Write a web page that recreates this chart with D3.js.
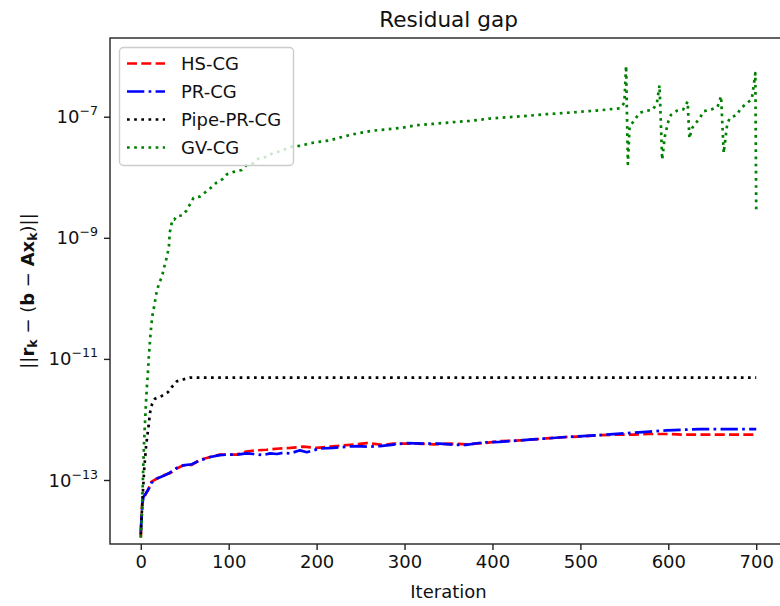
<!DOCTYPE html>
<html>
<head>
<meta charset="utf-8">
<script src="https://cdn.jsdelivr.net/npm/d3@7"></script>
<style>
  html, body { margin: 0; padding: 0; background: #fff; }
  svg { display: block; font-family: "DejaVu Sans", sans-serif; }
</style>
</head>
<body>
<svg id="chart" width="780" height="606"></svg>
<script>
// ---------------- data ----------------
const xTickValues = [0, 100, 200, 300, 400, 500, 600, 700];
const yTickExponents = [-7, -9, -11, -13];
const seriesNames = ["HS-CG", "PR-CG", "Pipe-PR-CG", "GV-CG"];

const hsIter = [0, 1, 2, 3, 5, 9, 12, 18, 26, 33, 41, 48, 58, 67, 79, 90, 100, 109, 120, 132, 143, 158, 170, 185, 200, 215, 230, 245, 257, 276, 287, 300, 314, 333, 352, 370, 390, 408, 427, 446, 465, 484, 503, 522, 541, 560, 579, 598, 617, 636, 700];
const hsVal = [1.12e-14, 3.02e-14, 4.47e-14, 5.25e-14, 5.62e-14, 7.24e-14, 9.33e-14, 1.05e-13, 1.20e-13, 1.29e-13, 1.55e-13, 1.74e-13, 1.78e-13, 2.14e-13, 2.40e-13, 2.63e-13, 2.63e-13, 2.63e-13, 2.95e-13, 3.09e-13, 3.16e-13, 3.31e-13, 3.39e-13, 3.55e-13, 3.39e-13, 3.55e-13, 3.72e-13, 3.89e-13, 4.07e-13, 3.80e-13, 3.98e-13, 3.98e-13, 3.98e-13, 3.89e-13, 3.98e-13, 3.89e-13, 4.07e-13, 4.37e-13, 4.47e-13, 4.68e-13, 4.90e-13, 5.13e-13, 5.25e-13, 5.50e-13, 5.62e-13, 5.62e-13, 5.75e-13, 5.75e-13, 5.62e-13, 5.62e-13, 5.62e-13];

const prIter = [0, 1, 2, 3, 5, 9, 12, 18, 26, 33, 41, 48, 58, 67, 79, 90, 100, 110, 120, 128, 139, 147, 155, 162, 170, 181, 189, 204, 219, 234, 246, 260, 272, 285, 302, 325, 340, 359, 370, 389, 408, 446, 484, 522, 560, 579, 598, 617, 636, 700];
const prVal = [1.41e-14, 2.51e-14, 4.17e-14, 5.25e-14, 5.75e-14, 7.08e-14, 8.91e-14, 1.05e-13, 1.17e-13, 1.32e-13, 1.58e-13, 1.74e-13, 1.82e-13, 2.09e-13, 2.40e-13, 2.57e-13, 2.63e-13, 2.63e-13, 2.75e-13, 2.69e-13, 2.57e-13, 2.75e-13, 2.69e-13, 2.82e-13, 2.75e-13, 3.09e-13, 2.88e-13, 3.31e-13, 3.39e-13, 3.55e-13, 3.63e-13, 3.55e-13, 3.63e-13, 3.80e-13, 4.07e-13, 3.98e-13, 3.98e-13, 3.80e-13, 3.80e-13, 4.17e-13, 4.27e-13, 4.68e-13, 5.13e-13, 5.50e-13, 6.03e-13, 6.31e-13, 6.61e-13, 6.76e-13, 6.92e-13, 6.92e-13];

const pipeIter = [0, 2, 4, 6, 8, 9, 10, 11, 13, 16, 24, 31, 35, 41, 48, 56, 200, 400, 600, 700];
const pipeVal = [1.26e-14, 5.01e-14, 1.58e-13, 3.55e-13, 6.31e-13, 7.94e-13, 1.12e-12, 1.41e-12, 1.82e-12, 2.19e-12, 2.45e-12, 2.82e-12, 3.39e-12, 4.27e-12, 4.57e-12, 4.90e-12, 4.90e-12, 4.90e-12, 4.90e-12, 4.90e-12];

const gvIter = [0, 1, 2, 3, 4, 5, 6, 7, 8, 9, 10, 11, 12, 13, 15, 18, 21, 24, 26, 30, 32, 33, 36, 38, 41, 47, 52, 60, 67, 74, 81, 86, 93, 98, 106, 115, 120, 128, 134, 141, 149, 156, 173, 181, 196, 215, 230, 245, 264, 280, 298, 314, 332, 355, 374, 397, 416, 435, 461, 480, 518, 545, 550, 552, 554, 556, 562, 567, 575, 582, 587, 590, 593, 596, 600, 603, 610, 617, 622, 624, 627, 631, 636, 640, 649, 656, 660, 663, 667, 670, 678, 682, 689, 695, 699, 700];
const gvVal = [1.12e-14, 2.0e-14, 6.31e-14, 2.0e-13, 5.01e-13, 1.0e-12, 2.0e-12, 3.55e-12, 5.62e-12, 1.0e-11, 1.58e-11, 2.51e-11, 3.55e-11, 5.01e-11, 7.08e-11, 1.26e-10, 1.82e-10, 2.24e-10, 3.02e-10, 5.01e-10, 7.24e-10, 1.23e-9, 2.0e-9, 2.0e-9, 2.29e-9, 2.34e-9, 2.82e-9, 4.57e-9, 4.79e-9, 5.75e-9, 6.92e-9, 8.13e-9, 9.33e-9, 1.12e-8, 1.23e-8, 1.32e-8, 1.58e-8, 1.70e-8, 2.04e-8, 2.14e-8, 2.45e-8, 2.63e-8, 3.24e-8, 3.31e-8, 3.72e-8, 4.07e-8, 4.68e-8, 5.25e-8, 5.89e-8, 6.17e-8, 6.61e-8, 7.24e-8, 7.59e-8, 8.13e-8, 8.51e-8, 9.33e-8, 9.77e-8, 1.02e-7, 1.10e-7, 1.15e-7, 1.26e-7, 1.38e-7, 1.70e-7, 6.92e-7, 1.66e-8, 6.92e-8, 8.91e-8, 1.15e-7, 1.26e-7, 1.29e-7, 1.66e-7, 3.31e-7, 1.95e-8, 4.68e-8, 8.32e-8, 1.07e-7, 1.26e-7, 1.32e-7, 1.78e-7, 4.37e-8, 6.46e-8, 7.76e-8, 9.55e-8, 1.23e-7, 1.32e-7, 1.45e-7, 2.19e-7, 2.51e-8, 7.59e-8, 9.55e-8, 1.07e-7, 1.35e-7, 1.66e-7, 1.95e-7, 5.25e-7, 2.95e-9];

// ---------------- layout ----------------
const svg = d3.select("#chart");
const L = 110, T = 38, R = 787, B = 544;
const x = d3.scaleLinear().domain([-35, 735]).range([L, R]);
const y = d3.scaleLog().domain([Math.pow(10, -14.057), Math.pow(10, -5.70)]).range([B, T]);

svg.append("defs").append("clipPath").attr("id", "clip")
  .append("rect").attr("x", L).attr("y", T).attr("width", R - L).attr("height", B - T);

const lw = 2.7;
const styles = [
  { color: "#ff0000", dash: [10, 4.3].join(",") },
  { color: "#0000ff", dash: [17.3, 4.3, 2.7, 4.3].join(",") },
  { color: "#000000", dash: [2.7, 4.46].join(",") },
  { color: "#008000", dash: [2.7, 4.46].join(",") }
];
const seriesData = [
  hsIter.map((d, i) => [d, hsVal[i]]),
  prIter.map((d, i) => [d, prVal[i]]),
  pipeIter.map((d, i) => [d, pipeVal[i]]),
  gvIter.map((d, i) => [d, gvVal[i]])
];

const line = d3.line().x(d => x(d[0])).y(d => y(d[1]));
const plot = svg.append("g").attr("clip-path", "url(#clip)");
seriesData.forEach((data, i) => {
  plot.append("path")
    .attr("d", line(data))
    .attr("fill", "none")
    .attr("stroke", styles[i].color)
    .attr("stroke-width", lw)
    .attr("stroke-dasharray", styles[i].dash)
    .attr("stroke-linejoin", "round");
});

// ---------------- axes ----------------
const axisColor = "#222";
const xAxis = d3.axisBottom(x).tickValues(xTickValues).tickSize(6).tickPadding(5).tickFormat(d3.format("d"));
const gx = svg.append("g").attr("transform", `translate(0,${B})`).call(xAxis);
gx.select(".domain").remove();
gx.selectAll(".tick line").attr("stroke", axisColor).attr("stroke-width", 1.4);
gx.selectAll(".tick text").attr("font-size", 18).attr("font-family", "DejaVu Sans").attr("fill", "#111");

const yAxis = d3.axisLeft(y).tickValues(yTickExponents.map(e => Math.pow(10, e))).tickSize(6).tickPadding(6).tickFormat("");
const gy = svg.append("g").attr("transform", `translate(${L},0)`).call(yAxis);
gy.select(".domain").remove();
gy.selectAll(".tick line").attr("stroke", axisColor).attr("stroke-width", 1.4);
yTickExponents.forEach(e => {
  const t = svg.append("text")
    .attr("x", L - 12).attr("y", y(Math.pow(10, e)) + 6.5)
    .attr("text-anchor", "end").attr("font-size", 18).attr("fill", "#111");
  t.append("tspan").text("10");
  t.append("tspan").attr("dy", -8).attr("font-size", 12.6).text("\u2212" + Math.abs(e));
});

// frame
svg.append("rect").attr("x", L).attr("y", T).attr("width", R - L).attr("height", B - T)
  .attr("fill", "none").attr("stroke", axisColor).attr("stroke-width", 1.4);

// ---------------- labels ----------------
svg.append("text").attr("x", (L + R) / 2).attr("y", 27).attr("text-anchor", "middle")
  .attr("font-size", 21.6).attr("fill", "#111").text("Residual gap");
svg.append("text").attr("x", (L + R) / 2).attr("y", 598).attr("text-anchor", "middle")
  .attr("font-size", 18).attr("fill", "#111").text("Iteration");

const yl = svg.append("text")
  .attr("transform", `translate(34,${(T + B) / 2}) rotate(-90)`)
  .attr("text-anchor", "middle").attr("font-size", 18).attr("fill", "#111");
yl.append("tspan").text("||");
yl.append("tspan").attr("font-weight", "bold").text("r");
yl.append("tspan").attr("font-weight", "bold").attr("font-size", 12.6).attr("dy", 3).text("k");
yl.append("tspan").attr("dy", -3).text(" \u2212 (");
yl.append("tspan").attr("font-weight", "bold").text("b");
yl.append("tspan").text(" \u2212 ");
yl.append("tspan").attr("font-weight", "bold").text("Ax");
yl.append("tspan").attr("font-weight", "bold").attr("font-size", 12.6).attr("dy", 3).text("k");
yl.append("tspan").attr("dy", -3).text(")||");

// ---------------- legend ----------------
const lg = svg.append("g");
lg.append("rect").attr("x", 119.5).attr("y", 47.5).attr("width", 174).attr("height", 118)
  .attr("rx", 4).attr("fill", "#fff").attr("fill-opacity", 0.8)
  .attr("stroke", "#cccccc").attr("stroke-width", 1.4);
seriesNames.forEach((name, i) => {
  const cy = 63.5 + i * 28;
  lg.append("line").attr("x1", 127).attr("x2", 165).attr("y1", cy).attr("y2", cy)
    .attr("stroke", styles[i].color).attr("stroke-width", lw).attr("stroke-dasharray", styles[i].dash);
  lg.append("text").attr("x", 181).attr("y", cy + 6.5).attr("font-size", 18).attr("fill", "#111").text(name);
});
</script>
</body>
</html>
